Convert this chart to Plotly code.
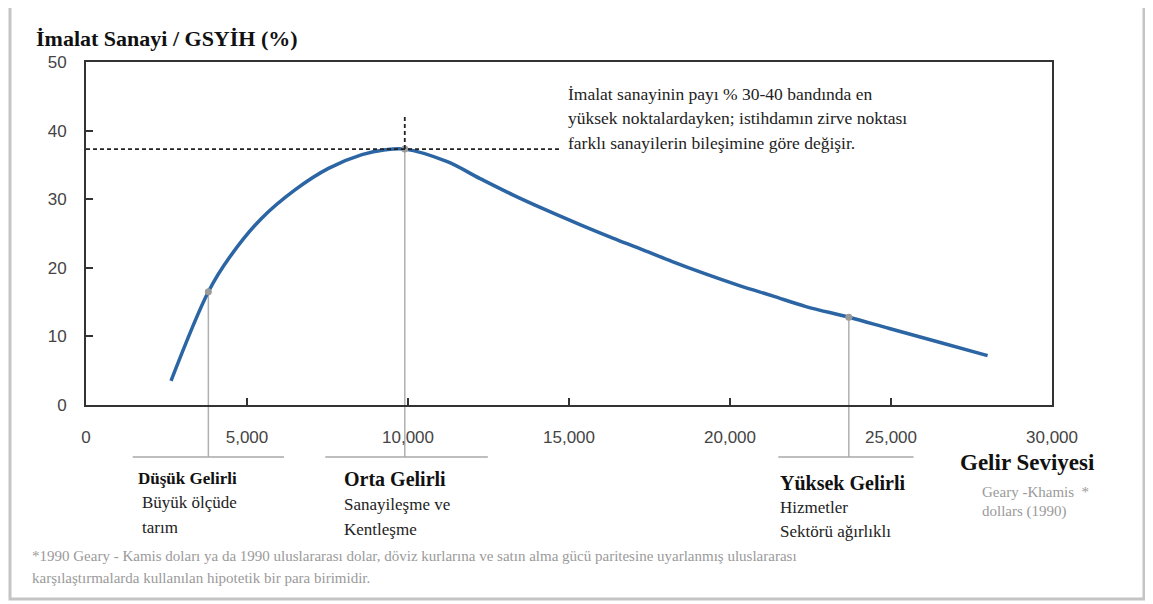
import plotly.graph_objects as go

# --- Data ---
income = [2640, 3800, 4470, 5450, 6500, 7530, 8570, 9300, 9900, 11200, 12240,
          13270, 14300, 15340, 16380, 17200, 18210, 19240, 20290, 21320, 22360,
          23690, 24950, 26500, 28000]
share = [3.5, 16.5, 21.6, 27.2, 31.4, 34.5, 36.5, 37.2, 37.3, 35.5, 33.0,
         30.6, 28.4, 26.3, 24.3, 22.8, 20.9, 19.1, 17.4, 15.9, 14.35,
         12.8, 11.15, 9.15, 7.2]

marker_x = [3800, 9900, 23690]
marker_y = [16.5, 37.3, 12.8]

peak_x, peak_y = 9900, 37.3
peak_line_end = 14700      # end of horizontal dashed line
peak_line_top = 42.3       # top of vertical dashed line

group_spans = [(1450, 6150), (7430, 12480), (21500, 25700)]

x_ticks = [0, 5000, 10000, 15000, 20000, 25000, 30000]
y_ticks = [0, 10, 20, 30, 40, 50]

# --- geometry helpers (screen pixel -> paper); page body adds an 8px offset ---
OFF = 8
L, R, T, B = 86, 1052, 62, 405
def px(x):
    return (x - L) / (R - L)
def py(y):
    return (B - y) / (B - T)

SERIF = "Liberation Serif"

fig = go.Figure()

fig.add_trace(go.Scatter(
    x=income, y=share, mode="lines",
    line=dict(color="#2b65a3", width=3.5, shape="spline", smoothing=1.0),
    hoverinfo="skip", showlegend=False,
))
fig.add_trace(go.Scatter(
    x=marker_x, y=marker_y, mode="markers",
    marker=dict(color="#9a9a9a", size=7),
    hoverinfo="skip", showlegend=False, cliponaxis=False,
))

shapes = []
# dashed peak lines
shapes.append(dict(type="line", xref="x", yref="y", x0=0, x1=peak_line_end, y0=peak_y, y1=peak_y,
                   line=dict(color="#222", width=1.8, dash="4px,3px")))
shapes.append(dict(type="line", xref="x", yref="y", x0=peak_x, x1=peak_x, y0=peak_y, y1=peak_line_top,
                   line=dict(color="#222", width=1.8, dash="4px,3px")))
# grey drop lines from markers to the group underlines
for mx, my in zip(marker_x, marker_y):
    shapes.append(dict(type="line", xref="x", yref="paper", x0=mx, x1=mx,
                       y0=py(457), y1=(my / 50), layer="below",
                       line=dict(color="#b0b0b0", width=1.5)))
for a, b in group_spans:
    shapes.append(dict(type="line", xref="x", yref="paper", x0=a, x1=b, y0=py(457), y1=py(457),
                       line=dict(color="#a8a8a8", width=1.5)))
# outer frame
shapes.append(dict(type="rect", xref="paper", yref="paper", x0=px(10), x1=px(1144), y0=py(599), y1=py(6),
                   line=dict(color="#c4c4c4", width=3)))

ann = []
def text(x, y, s, size, color="#222", bold=False):
    ann.append(dict(xref="paper", yref="paper", x=px(x), y=py(y), text=f"<b>{s}</b>" if bold else s,
                    showarrow=False, xanchor="left", yanchor="middle",
                    font=dict(family=SERIF, size=size, color=color)))

text(34, 38, "İmalat Sanayi / GSYİH (%)", 22, color="#111", bold=True)
text(566, 94, "İmalat sanayinin payı % 30-40 bandında en", 17.5)
text(566, 118, "yüksek noktalardayken; istihdamın zirve noktası", 17.5)
text(566, 143, "farklı sanayilerin bileşimine göre değişir.", 17.5)

text(136, 478, "Düşük Gelirli", 17, color="#111", bold=True)
text(140, 502, "Büyük ölçüde", 17)
text(140, 527, "tarım", 17)

text(342, 479, "Orta Gelirli", 20, color="#111", bold=True)
text(342, 504, "Sanayileşme ve", 17)
text(342, 529, "Kentleşme", 17)

text(778, 483, "Yüksek Gelirli", 20, color="#111", bold=True)
text(778, 507, "Hizmetler", 17)
text(778, 531, "Sektörü ağırlıklı", 17)

text(958, 462, "Gelir Seviyesi", 23, color="#111", bold=True)
text(980, 492, "Geary -Khamis  *", 15, color="#9a9a9a")
text(980, 512, "dollars (1990)", 15, color="#9a9a9a")

text(30, 556, "*1990 Geary - Kamis doları ya da 1990 uluslararası dolar, döviz kurlarına ve satın alma gücü "
         "paritesine uyarlanmış uluslararası", 15, color="#9a9a9a")
text(30, 578, "karşılaştırmalarda kullanılan hipotetik bir para birimidir.", 15, color="#9a9a9a")

fig.update_layout(
    width=1153, height=604,
    margin=dict(l=L - OFF, r=1153 - (R - OFF), t=T - OFF, b=604 - (B - OFF)),
    paper_bgcolor="white", plot_bgcolor="white",
    showlegend=False,
    shapes=shapes, annotations=ann,
    xaxis=dict(range=[0, 30000], tickvals=x_ticks, tickformat=",", showgrid=False, zeroline=False,
               showline=True, linecolor="#333", linewidth=2, mirror=True,
               ticks="inside", ticklen=7, tickcolor="#333", tickwidth=2,
               ticklabelstandoff=16,
               tickfont=dict(family="Liberation Sans", size=17, color="#444")),
    yaxis=dict(range=[0, 50], tickvals=y_ticks, showgrid=False, zeroline=False,
               showline=True, linecolor="#333", linewidth=2, mirror=True,
               ticks="inside", ticklen=7, tickcolor="#333", tickwidth=2,
               ticklabelstandoff=14,
               tickfont=dict(family="Liberation Sans", size=17, color="#444")),
)

fig.write_html("out.html")
